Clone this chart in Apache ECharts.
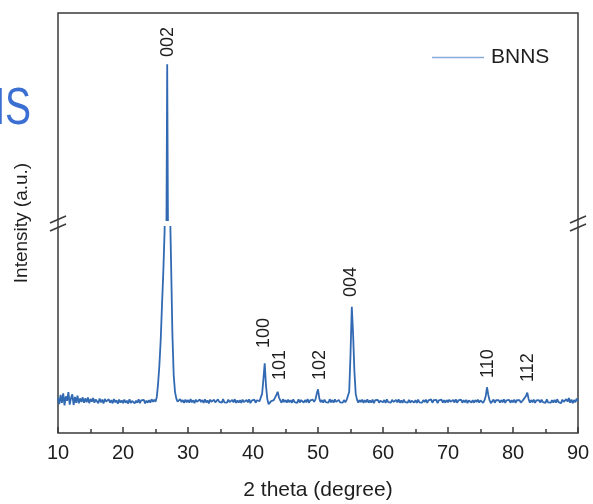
<!DOCTYPE html>
<html><head><meta charset="utf-8">
<script src="https://cdn.jsdelivr.net/npm/echarts@6.0.0/dist/echarts.min.js"></script>
<style>html,body{margin:0;padding:0;background:#fff}#c{width:593px;height:504px}</style>
</head><body><div id="c"></div><script>
// ---- data ----
const seriesName = 'BNNS';
const angleStart = 10;      // 2 theta of first sample (degree)
const angleStep = 0.2;      // sampling step (degree)
const intensity = [
  172,140,185,146,192,134,178,156,198,138,   // 10.0-11.8
  170,188,136,175,147,181,144,168,151,173,   // 12.0-13.8
  147,168,149,172,145,165,152,170,147,163,   // 14.0-15.8
  160,145,167,149,162,143,165,152,147,164,   // 16.0-17.8
  147,160,144,165,149,159,142,162,148,158,   // 18.0-19.8
  145,162,147,157,143,164,146,156,160,144,   // 20.0-21.8
  157,147,163,145,158,149,161,144,157,147,   // 22.0-23.8
  160,147,164,151,162,152,175,240,330,450,   // 24.0-25.8
  620,780,980,1400,16270,1500,1150,820,480,280, // 26.0-27.8
  200,168,152,147,164,150,160,146,162,149,   // 28.0-29.8
  160,147,165,149,159,145,162,151,147,163,   // 30.0-31.8
  150,160,146,164,148,158,144,162,152,147,   // 32.0-33.8
  161,149,145,163,151,159,147,165,149,158,   // 34.0-35.8
  147,162,150,145,160,149,164,146,158,148,   // 36.0-37.8
  159,146,162,150,147,160,149,163,145,157,   // 38.0-39.8
  149,162,147,159,151,155,162,190,260,338,   // 40.0-41.8
  230,165,140,145,155,147,160,165,185,200,   // 42.0-43.8
  172,158,147,164,150,160,147,162,149,159,   // 44.0-45.8
  147,163,150,158,146,164,148,160,151,147,   // 46.0-47.8
  160,149,165,147,158,149,162,152,162,190,   // 48.0-49.8
  212,168,149,160,147,162,150,159,147,164,   // 50.0-51.8
  149,160,147,163,151,146,161,149,158,147,   // 52.0-53.8
  160,149,160,165,200,380,613,480,300,190,   // 54.0-55.8
  162,147,160,150,162,146,159,149,163,147,   // 56.0-57.8
  158,148,162,145,159,150,161,147,157,162,   // 58.0-59.8
  149,160,146,163,150,158,147,161,151,147,   // 60.0-61.8
  160,149,163,147,158,146,162,150,159,148,   // 62.0-63.8
  161,147,157,164,148,159,146,162,149,158,   // 64.0-65.8
  147,160,150,162,146,158,149,163,147,159,   // 66.0-67.8
  150,161,145,158,149,162,148,159,147,160,   // 68.0-69.8
  149,162,152,146,160,148,164,147,158,150,   // 70.0-71.8
  162,147,159,149,161,145,158,164,148,159,   // 72.0-73.8
  147,160,150,162,148,158,152,146,158,178,   // 74.0-75.8
  222,185,158,145,149,162,147,159,150,160,   // 76.0-77.8
  147,160,149,163,146,158,150,161,147,159,   // 78.0-79.8
  149,162,146,159,150,160,147,156,162,170,   // 80.0-81.8
  180,196,165,147,160,149,162,146,158,150,   // 82.0-83.8
  160,147,162,150,159,146,163,149,158,147,   // 84.0-85.8
  159,148,161,147,164,150,158,145,162,151,   // 86.0-87.8
  147,164,152,170,147,162,145,160,149,167,   // 88.0-89.8
  156                                        // 90.0
];
const xMin = 10, xMax = 90, xInterval = 10;
const lowerRange = [0, 1000];     // intensity shown below the axis break
const upperRange = [8000, 19000]; // intensity shown above the axis break
const peakLabels    = ['002', '100', '101', '102', '004', '110', '112'];
const labelAngles   = [26.92, 41.77, 44.15, 50.3, 55.15, 76.15, 82.3];
const labelIntensity= [16660, 413, 257, 257, 660, 267, 248];
const labelPanel    = [1, 0, 0, 0, 0, 0, 0]; // 1 = upper panel, 0 = lower panel
const xAxisTitle = '2 theta (degree)';
const yAxisTitle = 'Intensity (a.u.)';
const slideTitle = 'BNNS';

// ---- chart ----
const lineColor = '#3169b2';
const legendColor = '#86abda';
const frameColor = '#3a3a3a';
const textColor = '#1e1e1e';
const fontFamily = 'Liberation Sans, Arial, sans-serif';
const points = intensity.map((v, i) => [+(angleStart + i * angleStep).toFixed(2), v]);

const G = { left: 58, right: 15, top: 13, bottom: 71, upperBottomPx: 220, lowerTopPx: 227 };
const chart = echarts.init(document.getElementById('c'), null, { renderer: 'canvas', devicePixelRatio: 1 });

const hiddenY = (gi, r) => ({ type: 'value', gridIndex: gi, min: r[0], max: r[1], show: false });
const option = {
  animation: false,
  backgroundColor: '#fff',
  grid: [
    { left: G.left, right: G.right, top: G.lowerTopPx, bottom: G.bottom, containLabel: false },
    { left: G.left, right: G.right, top: G.top, height: G.upperBottomPx - G.top, containLabel: false },
    { left: G.left, right: G.right, top: G.top, bottom: G.bottom, show: true, borderColor: frameColor, borderWidth: 1.5, backgroundColor: 'transparent', z: 0 }
  ],
  xAxis: [
    {
      type: 'value', gridIndex: 0, min: xMin, max: xMax, interval: xInterval,
      axisLine: { show: false },
      splitLine: { show: false },
      axisTick: { show: true, inside: true, length: 6, lineStyle: { color: frameColor, width: 1.5 } },
      minorTick: { show: true, splitNumber: 2, length: 4, lineStyle: { color: frameColor, width: 1.5 } },
      minorSplitLine: { show: false },
      axisLabel: { show: true, showMinLabel: true, showMaxLabel: true, hideOverlap: false, margin: 10, color: textColor, fontSize: 20, fontFamily: fontFamily },
      name: xAxisTitle, nameLocation: 'middle', nameGap: 47,
      nameTextStyle: { color: textColor, fontSize: 21, fontFamily: fontFamily }
    },
    { type: 'value', gridIndex: 1, min: xMin, max: xMax, show: false },
    { type: 'value', gridIndex: 2, min: xMin, max: xMax, show: false }
  ],
  yAxis: [ hiddenY(0, lowerRange), hiddenY(1, upperRange), hiddenY(2, lowerRange) ],
  legend: {
    show: true, left: 427, top: 42, icon: 'rect', itemWidth: 52, itemHeight: 1.6, itemGap: 5,
    data: [seriesName],
    itemStyle: { color: legendColor, borderWidth: 0 },
    textStyle: { color: textColor, fontSize: 21, fontFamily: fontFamily, padding: [0, 0, 0, 2] }
  },
  series: [
    { name: seriesName, type: 'line', xAxisIndex: 0, yAxisIndex: 0, data: points, symbol: 'none', clip: true,
      lineStyle: { color: lineColor, width: 1.8 }, itemStyle: { color: legendColor }, z: 3 },
    { name: seriesName, type: 'line', xAxisIndex: 1, yAxisIndex: 1, data: points, symbol: 'none', clip: true,
      lineStyle: { color: lineColor, width: 1.8 }, itemStyle: { color: legendColor }, z: 3 }
  ]
};
chart.setOption(option);

// annotations derived from the axes
const graphics = [];
peakLabels.forEach((t, i) => {
  const p = chart.convertToPixel({ gridIndex: labelPanel[i] }, [labelAngles[i], labelIntensity[i]]);
  graphics.push({ type: 'text', x: p[0], y: p[1], rotation: Math.PI / 2, z: 10,
    style: { text: t, fill: textColor, font: '18px ' + fontFamily, textAlign: 'left', textVerticalAlign: 'middle' } });
});
// break marks on both frame sides
const W = 593;
const breakMid = (G.upperBottomPx + G.lowerTopPx) / 2;
[G.left, W - G.right].forEach(cx => {
  [-4, 4].forEach(dy => {
    const cy = breakMid + dy;
    graphics.push({ type: 'line', z: 10, shape: { x1: cx - 8, y1: cy + 3.5, x2: cx + 8, y2: cy - 3.5 },
      style: { stroke: frameColor, lineWidth: 1.5 } });
  });
});
// y axis title
graphics.push({ type: 'text', x: 22, y: (G.top + (504 - G.bottom)) / 2, rotation: Math.PI / 2, z: 10,
  style: { text: yAxisTitle, fill: textColor, font: '19px ' + fontFamily, textAlign: 'center', textVerticalAlign: 'middle' } });
// cropped slide title at the far left
graphics.push({ type: 'text', x: 31, y: 110, scaleX: 0.75, z: 10,
  style: { text: slideTitle, fill: '#3b6fd2', font: '52px ' + fontFamily, textAlign: 'right', textVerticalAlign: 'middle' } });
chart.setOption({ graphic: graphics });
</script></body></html>
